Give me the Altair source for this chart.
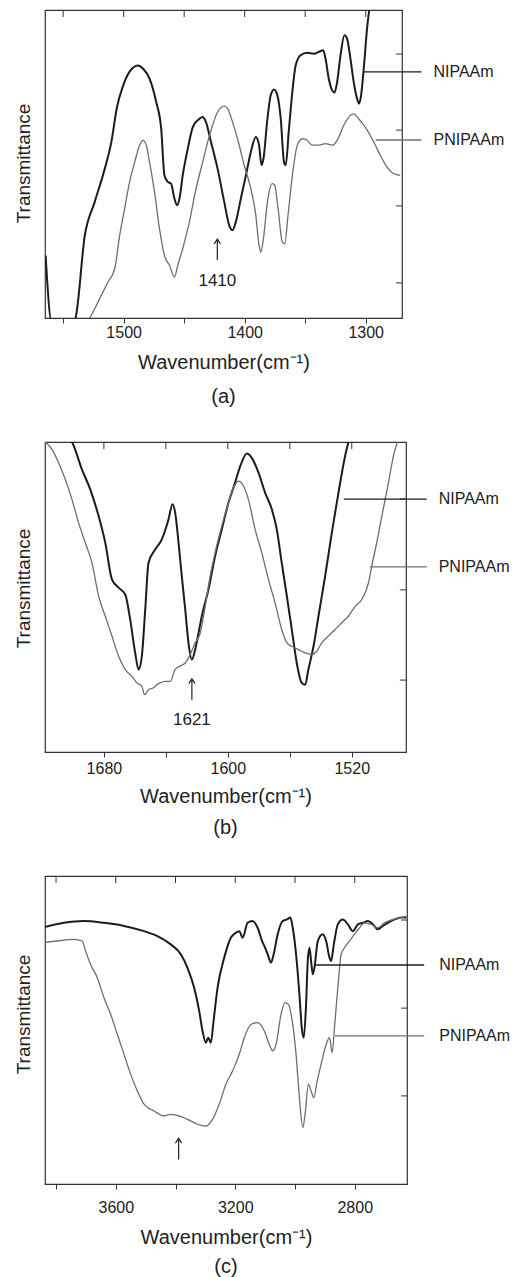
import altair as alt
import pandas as pd

FONT = "Liberation Sans"
DARK = "#1c1c1c"
GRAY = "#6e6e6e"
SERIES = ["NIPAAm", "PNIPAAm"]
ARROW_SHAPE = "M0,1L0,-1M-0.3,-0.55L0,-1L0.3,-0.55"

# ---------------- panel (a) : (wavenumber, transmittance) ----------------
A_NIPAAM = [(1564.5, 20.3), (1559.5, -1.3), (1541.7, -1.3), (1539.8, 0.0), (1532.1, 26.8), (1523.9, 37.7),
            (1515.6, 48.5), (1510.2, 57.1), (1505.5, 68.5), (1501.0, 74.8), (1495.1, 80.0), (1488.2, 82.0),
            (1484.1, 81.0), (1478.6, 77.7), (1473.1, 70.1), (1469.0, 61.5), (1466.3, 46.3), (1463.5, 44.2),
            (1460.8, 43.6), (1458.0, 38.7), (1455.8, 36.6), (1453.9, 38.7), (1451.2, 46.3), (1447.0, 55.0),
            (1442.9, 62.0), (1438.8, 64.2), (1434.7, 65.3), (1432.0, 63.6), (1427.8, 57.1), (1422.4, 48.5),
            (1416.9, 37.7), (1412.8, 30.1), (1410.0, 28.5), (1407.3, 31.2), (1403.2, 38.7), (1399.0, 46.3),
            (1394.9, 53.9), (1390.8, 58.8), (1388.1, 56.1), (1386.1, 49.6), (1384.5, 51.7), (1381.2, 64.7),
            (1378.5, 72.3), (1375.7, 74.2), (1373.0, 72.3), (1370.2, 64.7), (1367.5, 50.6), (1366.1, 49.6),
            (1363.4, 61.5), (1360.6, 73.4), (1357.9, 82.0), (1353.8, 85.3), (1348.3, 86.1), (1342.8, 85.8),
            (1338.7, 86.4), (1335.1, 86.9), (1333.2, 84.2), (1330.5, 77.7), (1327.7, 73.9), (1325.8, 73.2),
            (1323.6, 76.6), (1320.8, 85.3), (1317.6, 91.8), (1315.4, 90.7), (1312.6, 84.2), (1309.9, 76.6),
            (1307.1, 71.2), (1305.5, 69.6), (1303.8, 72.3), (1301.6, 81.0), (1298.9, 93.9), (1296.2, 102.6),
            (1293.4, 109.1)]
A_PNIPAAM = [(1532.0, -3.0), (1528.0, 0.0), (1523.9, 3.0), (1518.4, 7.4), (1512.9, 11.7), (1507.4, 16.0),
             (1503.3, 26.8), (1499.2, 35.5), (1495.1, 44.2), (1490.9, 50.6), (1486.8, 56.1), (1484.1, 57.7),
             (1481.3, 56.1), (1478.6, 50.6), (1474.5, 40.9), (1470.4, 29.0), (1466.3, 20.3), (1462.1, 17.1),
             (1458.0, 13.3), (1455.3, 17.1), (1451.2, 22.5), (1445.7, 31.2), (1440.2, 42.0), (1434.7, 50.6),
             (1430.6, 57.1), (1426.5, 62.6), (1422.4, 66.9), (1416.9, 68.8), (1414.1, 68.0), (1410.0, 63.6),
             (1405.9, 58.2), (1400.4, 49.6), (1394.9, 42.0), (1390.8, 33.3), (1388.1, 23.6), (1386.7, 21.4),
             (1384.5, 25.8), (1381.2, 37.7), (1377.1, 43.6), (1375.2, 43.1), (1372.4, 35.5), (1368.9, 24.7),
             (1366.9, 24.1), (1364.2, 33.3), (1360.6, 46.3), (1356.5, 56.1), (1352.4, 58.2), (1348.3, 57.7),
             (1344.2, 56.1), (1338.7, 56.1), (1333.2, 56.6), (1327.7, 56.1), (1323.6, 57.7), (1318.1, 62.6),
             (1312.6, 65.8), (1309.9, 66.3), (1305.8, 64.7), (1301.6, 62.6), (1296.2, 59.3), (1292.0, 56.1),
             (1287.9, 52.8), (1282.4, 49.0), (1277.0, 46.9), (1271.5, 46.3)]

# ---------------- panel (b) ----------------
B_NIPAAM = [(1703.9, 101.9), (1700.6, 100.0), (1694.2, 91.2), (1688.8, 84.7), (1683.4, 76.1), (1679.1, 67.5),
            (1674.8, 55.7), (1670.5, 53.0), (1666.2, 50.8), (1663.0, 42.7), (1659.8, 32.0), (1657.6, 26.6),
            (1655.5, 30.9), (1653.3, 46.0), (1651.2, 61.0), (1646.9, 65.3), (1642.6, 68.6), (1638.3, 75.0),
            (1635.7, 79.9), (1634.0, 77.2), (1631.8, 67.5), (1629.7, 56.7), (1627.5, 46.0), (1625.4, 35.2),
            (1623.2, 29.8), (1621.1, 33.0), (1618.9, 38.4), (1616.8, 43.8), (1612.5, 52.4), (1608.2, 63.2),
            (1603.9, 71.8), (1599.6, 80.4), (1595.3, 86.9), (1592.0, 92.2), (1587.7, 96.3), (1584.5, 94.9),
            (1580.2, 90.1), (1575.9, 83.6), (1571.6, 78.3), (1568.4, 71.8), (1565.2, 61.0), (1561.9, 50.3),
            (1558.7, 39.5), (1555.5, 28.7), (1552.3, 22.3), (1550.1, 21.7), (1548.0, 26.6), (1544.7, 34.1),
            (1541.5, 43.8), (1537.2, 56.7), (1532.9, 70.7), (1528.6, 83.6), (1524.3, 95.5), (1521.1, 101.9)]
B_PNIPAAM = [(1717.8, 100.0), (1713.5, 97.6), (1709.2, 93.3), (1704.9, 87.9), (1700.6, 81.5), (1696.3, 73.9),
             (1692.0, 67.5), (1687.7, 61.0), (1683.4, 50.3), (1679.1, 43.8), (1674.8, 37.4), (1670.5, 30.9),
             (1666.2, 26.6), (1661.9, 24.4), (1658.7, 22.3), (1655.5, 21.2), (1653.8, 18.5), (1651.2, 20.1),
             (1648.0, 20.7), (1645.8, 21.7), (1643.7, 22.3), (1640.4, 22.8), (1637.2, 22.8), (1634.0, 26.6),
             (1630.8, 27.7), (1627.5, 28.7), (1624.3, 31.4), (1621.1, 35.2), (1617.8, 38.4), (1614.6, 47.0),
             (1611.4, 56.7), (1608.2, 64.3), (1603.9, 72.9), (1599.6, 80.4), (1596.3, 85.3), (1593.1, 87.4),
             (1589.9, 85.8), (1586.7, 81.5), (1582.4, 71.8), (1578.1, 64.3), (1573.8, 55.7), (1569.5, 48.1),
             (1565.2, 39.5), (1561.9, 35.2), (1558.7, 34.1), (1554.4, 33.0), (1550.1, 32.0), (1545.8, 31.4),
             (1542.6, 32.5), (1539.4, 35.2), (1535.1, 37.4), (1530.8, 39.5), (1526.5, 41.7), (1522.2, 43.8),
             (1517.8, 47.0), (1513.5, 49.2), (1509.2, 54.6), (1507.1, 60.0), (1503.9, 67.5), (1500.6, 76.1),
             (1496.3, 86.9), (1493.1, 95.5), (1489.9, 100.9)]

# ---------------- panel (c) ----------------
C_NIPAAM = [(3837.6, 83.4), (3773.8, 84.8), (3706.7, 85.4), (3639.6, 84.8), (3572.5, 83.8), (3505.4, 82.1),
            (3460.6, 80.5), (3415.9, 77.8), (3382.3, 74.6), (3360.0, 70.2), (3337.6, 63.7), (3320.8, 56.2),
            (3309.6, 49.7), (3298.4, 45.9), (3290.6, 47.5), (3281.7, 45.9), (3272.7, 52.9), (3259.3, 63.7),
            (3236.9, 73.5), (3214.5, 80.0), (3197.8, 81.6), (3186.6, 82.1), (3175.4, 80.0), (3158.6, 84.8),
            (3141.8, 85.4), (3125.1, 83.2), (3108.3, 78.4), (3102.7, 77.3), (3091.5, 74.6), (3080.3, 71.9),
            (3071.4, 74.6), (3057.9, 81.1), (3041.2, 85.4), (3026.6, 85.9), (3015.4, 86.5), (3007.6, 83.2),
            (2996.4, 74.6), (2985.2, 61.6), (2977.4, 50.8), (2970.7, 47.5), (2962.9, 58.3), (2957.3, 72.4),
            (2951.7, 76.7), (2946.1, 72.4), (2940.5, 68.1), (2934.9, 70.2), (2923.7, 78.9), (2906.9, 81.1),
            (2895.7, 78.9), (2884.5, 73.5), (2879.0, 72.4), (2870.0, 77.8), (2856.6, 84.3), (2839.8, 85.9),
            (2823.0, 84.3), (2806.3, 82.1), (2789.5, 84.3), (2772.7, 84.8), (2755.9, 85.4), (2739.1, 84.3),
            (2722.4, 82.7), (2705.6, 83.8), (2688.8, 84.8), (2666.4, 85.9), (2644.1, 86.5), (2627.3, 86.5)]
C_PNIPAAM = [(3837.6, 78.4), (3796.2, 78.9), (3740.3, 79.4), (3712.3, 78.9), (3701.1, 75.6), (3684.4, 71.3),
             (3662.0, 67.0), (3639.6, 60.5), (3617.2, 55.1), (3594.9, 48.6), (3572.5, 42.1), (3550.1, 35.6),
             (3527.8, 30.2), (3505.4, 25.9), (3471.8, 23.7), (3438.3, 22.1), (3415.9, 22.6), (3387.9, 22.1),
             (3360.0, 21.0), (3326.4, 19.4), (3298.4, 18.8), (3276.1, 21.0), (3253.7, 25.9), (3231.3, 32.4),
             (3208.9, 36.7), (3186.6, 42.1), (3169.8, 47.5), (3147.4, 51.8), (3125.1, 52.4), (3102.7, 49.7),
             (3085.9, 45.3), (3074.7, 43.2), (3063.5, 45.3), (3046.8, 55.1), (3033.3, 58.9), (3022.1, 58.3),
             (3011.0, 54.0), (2996.4, 42.1), (2985.2, 28.0), (2974.0, 18.3), (2966.2, 22.6), (2955.0, 32.4),
             (2946.1, 30.2), (2937.1, 28.0), (2925.9, 33.4), (2912.5, 38.9), (2895.7, 45.3), (2884.5, 47.5),
             (2875.6, 42.6), (2867.8, 50.8), (2856.6, 63.7), (2845.4, 74.6), (2834.2, 76.7), (2817.4, 78.9),
             (2800.7, 81.1), (2783.9, 83.2), (2767.1, 84.8), (2744.7, 84.3), (2722.4, 83.2), (2700.0, 84.8),
             (2672.0, 85.9), (2644.1, 86.5), (2627.3, 87.0)]

# axis tick values (wavenumber)
A_TICKS = [1550, 1500, 1450, 1400, 1350, 1300]
B_TICKS = [1680, 1640, 1600, 1560, 1520]
C_TICKS = [3800, 3600, 3400, 3200, 3000, 2800]
# right-hand inner tick positions (transmittance)
A_RTICKS = [85.7, 61.0, 36.4, 11.4]
B_RTICKS = [81.6, 52.3, 23.2]
C_RTICKS = [85.7, 57.1, 28.6]

# series labels: (label, line start wn, line end wn, transmittance, text wn)
A_LABELS = [("NIPAAm", 1301.6, 1253.9, 79.9, 1244.0), ("PNIPAAm", 1291.8, 1253.9, 57.8, 1244.0)]
B_LABELS = [("NIPAAm", 1525.2, 1471.6, 81.6, 1463.9), ("PNIPAAm", 1508.4, 1471.6, 59.7, 1463.9)]
C_LABELS = [("NIPAAm", 2933.2, 2567.4, 71.1, 2517.0), ("PNIPAAm", 2866.1, 2567.4, 48.1, 2517.0)]

# peak markers: (arrow wn, arrow centre T, number text, number T)
A_MARK = (1422.6, 22.2, "1410", 12.0)
B_MARK = (1623.2, 20.2, "1621", 10.3)
C_MARK = (3389.6, 11.4, "", 0.0)


def series_df(pairs, name):
    return pd.DataFrame({"wn": [p[0] for p in pairs], "T": [p[1] for p in pairs], "s": name})


def panel(nip, pnip, domain, width, height, ticks, label_mod, rticks, rlen, labels, mark, caption,
          title_y, label_pad, title_pad, cap_offset):
    xenc = alt.X("wn:Q",
                 scale=alt.Scale(domain=domain, reverse=True, nice=False, zero=False),
                 axis=alt.Axis(title="Wavenumber(cm⁻¹)", values=ticks, format="d",
                               labelExpr=f"datum.value % {label_mod} == 0 ? datum.label : ''",
                               tickSize=5, labelPadding=label_pad, titlePadding=title_pad,
                               domain=False, grid=False,
                               labelFontSize=16, titleFontSize=20, titleFontWeight="normal",
                               labelOverlap=False))
    yenc = alt.Y("T:Q", scale=alt.Scale(domain=[0, 100], nice=False, zero=False),
                 axis=alt.Axis(title="Transmittance", labels=False, ticks=False, domain=False, grid=False,
                               titleFontSize=19, titleFontWeight="normal", titlePadding=12, titleY=title_y))
    color = alt.Color("s:N", scale=alt.Scale(domain=SERIES, range=[DARK, GRAY]), legend=None)

    df = pd.concat([series_df(nip, "NIPAAm"), series_df(pnip, "PNIPAAm")], ignore_index=True)
    lines = alt.Chart(df).mark_line(clip=True, interpolate="monotone").encode(
        x=xenc, y=yenc, color=color,
        strokeWidth=alt.StrokeWidth("s:N", scale=alt.Scale(domain=SERIES, range=[2.0, 1.3]), legend=None))

    top_len = 7 / height * 100
    top_df = pd.DataFrame({"wn": ticks, "T": [100.0] * len(ticks), "T2": [100.0 - top_len] * len(ticks)})
    top = alt.Chart(top_df).mark_rule(color="#333", strokeWidth=1).encode(x=xenc, y=yenc, y2=alt.Y2("T2:Q"))

    r_df = pd.DataFrame({"wn": [domain[0]] * len(rticks), "wn2": [domain[0] + rlen] * len(rticks), "T": rticks})
    right = alt.Chart(r_df).mark_rule(color="#333", strokeWidth=1).encode(x=xenc, x2=alt.X2("wn2:Q"), y=yenc)

    l_df = pd.DataFrame({"s": [l[0] for l in labels], "wn": [l[1] for l in labels],
                         "wn2": [l[2] for l in labels], "T": [l[3] for l in labels],
                         "tx": [l[4] for l in labels]})
    conn = alt.Chart(l_df).mark_rule(strokeWidth=1.3).encode(x=xenc, x2=alt.X2("wn2:Q"), y=yenc, color=color)
    ltext = alt.Chart(l_df).mark_text(align="left", baseline="middle", fontSize=16, color="#222").encode(
        x=alt.X("tx:Q"), y=yenc, text="s:N")

    m_df = pd.DataFrame({"wn": [mark[0]], "T": [mark[1]], "num": [mark[2]], "T2": [mark[3]]})
    arrow = alt.Chart(m_df).mark_point(shape=ARROW_SHAPE, filled=False, size=440, color="#222",
                                       strokeWidth=1.2, opacity=1).encode(x=xenc, y=yenc)
    num = alt.Chart(m_df).mark_text(fontSize=17, color="#222", baseline="middle").encode(
        x=xenc, y=alt.Y("T2:Q"), text="num:N")

    return alt.layer(lines, top, right, conn, ltext, arrow, num).properties(
        width=width, height=height,
        title=alt.TitleParams(caption, orient="bottom", fontSize=20, fontWeight="normal", offset=cap_offset,
                              font=FONT, color="#222"))


pa = panel(A_NIPAAM, A_PNIPAAM, [1270, 1565], 357, 308, A_TICKS, 100, A_RTICKS, 5, A_LABELS, A_MARK, "(a)",
           153, 1, 12, 15)
pb = panel(B_NIPAAM, B_PNIPAAM, [1485, 1718], 361, 310, B_TICKS, 80, B_RTICKS, 4, B_LABELS, B_MARK, "(b)",
           146, 3, 10, 12)
pc = panel(C_NIPAAM, C_PNIPAAM, [2625, 3837], 362, 308, C_TICKS, 400, C_RTICKS, 20, C_LABELS, C_MARK, "(c)",
           138, 10, 12, 10)

chart = alt.vconcat(pa, pb, pc, spacing=124, bounds="flush").properties(
    padding={"left": 5, "top": 0, "right": 5, "bottom": 5}
).configure(font=FONT).configure_view(
    stroke="#333", strokeWidth=1.2
).configure_axis(
    labelFont=FONT, titleFont=FONT, labelColor="#222", titleColor="#222", tickColor="#333"
)

chart.save("out.html", embed_options={"renderer": "svg", "actions": False})
